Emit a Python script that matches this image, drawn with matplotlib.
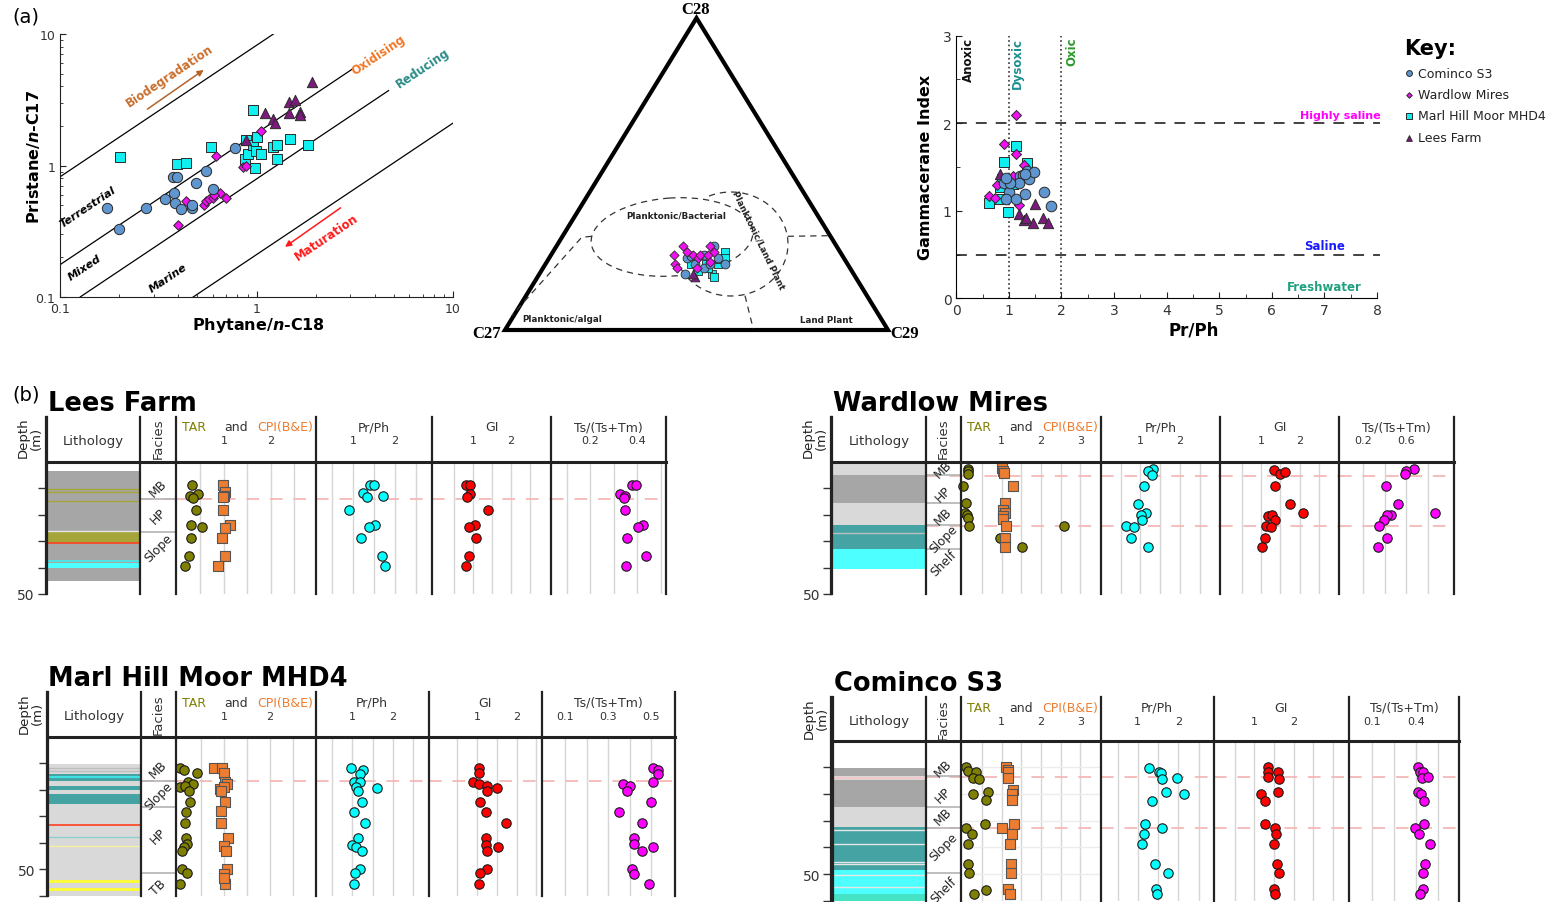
import numpy as np
import matplotlib
matplotlib.use("Agg")
import matplotlib.pyplot as plt
from matplotlib.patches import Polygon, Ellipse
from matplotlib.ticker import NullFormatter

plt.rcParams['font.family'] = ['DejaVu Sans']
plt.rcParams['mathtext.fontset'] = 'dejavusans'

W, H, DPI = 1553, 903, 100

# ---------------------------------------------------------------- data
# Pristane/n-C17 vs Phytane/n-C18
COM_PH = [0.173, 0.200, 0.273, 0.344, 0.379, 0.387, 0.378, 0.392, 0.412, 0.469, 0.471, 0.495, 0.551, 0.603, 0.78]
COM_PR = [0.474, 0.327, 0.476, 0.558, 0.617, 0.52, 0.815, 0.815, 0.469, 0.473, 0.497, 0.741, 0.916, 0.665, 1.36]
WAR_PH = [0.438, 0.40, 0.54, 0.556, 0.574, 0.603, 0.62, 0.65, 0.61, 0.70, 0.85, 0.88, 1.06]
WAR_PR = [0.533, 0.35, 0.503, 0.533, 0.555, 0.562, 1.19, 0.62, 0.60, 0.562, 0.97, 0.99, 1.84]
MAR_PH = [0.203, 0.396, 0.44, 0.586, 0.96, 0.88, 0.87, 0.90, 0.96, 0.99, 1.01, 1.06, 0.98, 1.21, 1.27, 1.27, 1.48, 1.83]
MAR_PR = [1.16, 1.03, 1.05, 1.39, 2.62, 1.55, 1.12, 1.23, 1.42, 1.30, 1.64, 1.23, 0.95, 1.39, 1.44, 1.12, 1.60, 1.44]
LEE_PH = [0.88, 1.11, 1.21, 1.24, 1.46, 1.57, 1.46, 1.66, 1.67, 1.91]
LEE_PR = [1.55, 2.50, 2.24, 2.11, 3.06, 3.13, 2.50, 2.54, 2.42, 4.29]

# Sterane C27 / C28 / C29 distribution (%)
COM_C27 = [44, 41, 40, 40, 38, 32, 33, 32, 36, 36]
COM_C28 = [18, 23, 24, 21, 20, 27, 23, 21, 24, 21]
COM_C29 = [38, 36, 37, 39, 42, 41, 44, 47, 40, 43]
WAR_C27 = [40, 44, 45, 45, 40, 39, 38, 37, 40, 33, 35, 33, 36]
WAR_C28 = [27, 24, 21, 20, 25, 24, 23, 24, 20, 27, 24, 25, 22]
WAR_C29 = [33, 32, 34, 35, 35, 37, 39, 39, 40, 40, 41, 42, 43]
MAR_C27 = [41, 40, 37, 37, 34, 30, 33, 37, 31, 37]
MAR_C28 = [21, 19, 21, 18, 21, 25, 23, 17, 23, 20]
MAR_C29 = [38, 41, 42, 45, 45, 45, 45, 46, 46, 43]
LEE_C27 = [42, 42]
LEE_C28 = [17, 18]
LEE_C29 = [41, 40]

# Gammacerane index vs Pr/Ph
COM_PRPH_X = [0.91, 1.01, 0.95, 1.13, 1.21, 1.27, 1.31, 1.35, 1.39, 1.48, 1.67, 1.81, 1.19, 1.03, 0.95, 1.31]
COM_GI_Y = [1.32, 1.21, 1.13, 1.13, 1.40, 1.41, 1.19, 1.45, 1.36, 1.44, 1.22, 1.06, 1.32, 1.32, 1.37, 1.42]
WAR_PRPH_X = [1.13, 0.91, 1.13, 1.29, 1.07, 0.77, 0.62, 0.74, 1.01, 1.19]
WAR_GI_Y = [2.09, 1.76, 1.65, 1.52, 1.40, 1.29, 1.17, 1.15, 1.29, 1.07]
MAR_PRPH_X = [1.13, 0.90, 1.35, 0.63, 0.99, 0.82, 0.83, 0.87, 1.07]
MAR_GI_Y = [1.74, 1.56, 1.54, 1.09, 0.99, 1.13, 1.27, 1.36, 1.31]
LEE_PRPH_X = [0.83, 1.19, 1.29, 1.33, 1.45, 1.50, 1.65, 1.74]
LEE_GI_Y = [1.42, 0.96, 0.89, 0.92, 0.86, 1.08, 0.92, 0.86]

# Depth profiles: Lees Farm
LF_TAR_D = [8.8, 13.1, 12.2, 13.7, 18.2, 23.8, 24.8, 29.0, 35.8, 39.3]
LF_TAR = [0.33, 0.28, 0.44, 0.35, 0.41, 0.30, 0.54, 0.30, 0.26, 0.17]
LF_CPI_D = [8.8, 11.6, 13.1, 13.5, 18.2, 23.8, 24.9, 29.0, 35.8, 39.3]
LF_CPI = [0.98, 1.02, 1.01, 0.99, 0.97, 1.12, 1.03, 0.96, 1.03, 0.88]
LF_PRPH_D = [8.8, 8.8, 11.9, 13.5, 12.9, 18.2, 23.8, 24.8, 29.0, 35.8, 39.3]
LF_PRPH = [1.40, 1.50, 1.24, 1.34, 1.71, 0.90, 1.53, 1.37, 1.19, 1.69, 1.76]
LF_GI_D = [8.8, 8.8, 12.2, 13.5, 18.2, 23.8, 24.8, 29.0, 35.8, 39.3]
LF_GI = [0.82, 0.91, 0.91, 0.85, 1.39, 1.05, 0.89, 1.08, 0.89, 0.82]
LF_TS_D = [8.8, 8.8, 12.2, 12.9, 13.9, 18.2, 23.8, 24.8, 29.0, 35.8, 39.3]
LF_TS = [0.377, 0.396, 0.326, 0.350, 0.344, 0.348, 0.424, 0.405, 0.359, 0.437, 0.354]

# Depth profiles: Wardlow Mires
WM_TAR_D = [2.8, 3.7, 4.8, 9.1, 15.6, 19.2, 20.2, 21.4, 24.2, 24.3, 29.0, 32.1]
WM_TAR = [0.13, 0.13, 0.15, 0.02, 0.09, 0.06, 0.12, 0.15, 0.17, 2.58, 0.96, 1.51]
WM_CPI_D = [2.5, 3.4, 4.4, 9.1, 15.6, 18.3, 19.5, 20.7, 21.7, 24.2, 29.0, 32.1]
WM_CPI = [1.01, 1.03, 1.06, 1.28, 1.07, 1.03, 1.09, 1.03, 1.03, 1.10, 1.09, 1.09]
WM_PRPH_D = [2.8, 3.7, 5.0, 9.1, 16.0, 19.2, 20.1, 22.1, 24.2, 24.5, 29.0, 32.1]
WM_PRPH = [1.32, 1.18, 1.29, 1.10, 0.93, 1.15, 1.02, 1.05, 0.63, 0.83, 0.77, 1.19]
WM_GI_D = [3.1, 4.7, 3.8, 9.1, 15.9, 19.2, 20.4, 20.2, 21.9, 24.2, 24.6, 29.0, 32.1]
WM_GI = [1.33, 1.49, 1.62, 1.36, 1.75, 2.09, 1.19, 1.28, 1.36, 1.13, 1.25, 1.11, 1.02]
WM_TS_D = [2.8, 3.4, 4.7, 9.1, 15.9, 19.2, 20.2, 20.2, 22.1, 24.2, 29.0, 32.1]
WM_TS = [0.67, 0.60, 0.59, 0.41, 0.52, 0.87, 0.46, 0.42, 0.39, 0.35, 0.42, 0.34]

# Depth profiles: Marl Hill Moor MHD4
MH_TAR_D = [11.9, 12.4, 13.7, 17.2, 17.8, 19.1, 18.7, 20.4, 24.8, 28.6, 32.6, 38.4, 40.5, 41.8, 43.3, 50.0, 51.6, 55.4]
MH_TAR = [0.05, 0.12, 0.41, 0.22, 0.33, 0.05, 0.14, 0.24, 0.26, 0.17, 0.14, 0.17, 0.19, 0.12, 0.08, 0.08, 0.19, 0.05]
MH_CPI_D = [11.9, 11.9, 13.7, 17.2, 17.8, 19.7, 18.8, 20.4, 24.8, 28.0, 32.6, 38.4, 41.2, 43.1, 50.0, 51.9, 55.4, 53.5]
MH_CPI = [0.79, 0.96, 1.00, 1.02, 1.07, 0.91, 1.00, 0.94, 1.02, 0.93, 0.93, 1.08, 1.00, 1.05, 1.07, 1.00, 1.02, 1.00]
MH_PRPH_D = [11.9, 12.4, 14.1, 17.2, 17.2, 18.8, 19.3, 20.6, 24.8, 28.6, 32.6, 38.4, 40.8, 41.8, 43.3, 50.0, 51.6, 55.4]
MH_PRPH = [0.97, 1.26, 1.19, 1.04, 1.19, 1.10, 1.60, 1.15, 1.24, 1.04, 1.31, 1.15, 0.99, 1.10, 1.24, 1.20, 1.08, 1.06]
MH_GI_D = [11.9, 13.7, 17.2, 17.8, 18.7, 19.3, 20.4, 24.8, 28.6, 32.6, 38.4, 40.8, 41.8, 43.3, 50.0, 51.6, 55.4]
MH_GI = [1.05, 1.05, 0.89, 1.05, 1.25, 1.50, 1.24, 1.08, 1.22, 1.72, 1.22, 1.22, 1.53, 1.24, 1.24, 1.08, 1.05]
MH_TS_D = [11.9, 12.4, 13.9, 17.8, 18.7, 20.4, 17.2, 24.8, 28.6, 32.6, 38.4, 40.5, 41.8, 43.3, 50.0, 51.9, 55.4]
MH_TS = [0.51, 0.53, 0.53, 0.37, 0.40, 0.39, 0.51, 0.50, 0.35, 0.46, 0.42, 0.42, 0.51, 0.46, 0.41, 0.42, 0.49]

# Depth profiles: Cominco S3
CS_TAR_D = [9.7, 11.3, 11.9, 13.8, 14.5, 20.1, 19.2, 22.4, 31.1, 32.9, 34.8, 38.7, 46.4, 49.6, 55.8, 57.5]
CS_TAR = [0.09, 0.15, 0.35, 0.26, 0.42, 0.26, 0.65, 0.61, 0.57, 0.09, 0.24, 0.15, 0.15, 0.17, 0.61, 0.29]
CS_CPI_D = [9.7, 10.9, 11.9, 13.8, 18.6, 20.1, 22.4, 31.1, 32.9, 34.8, 38.7, 46.4, 49.6, 55.6, 57.5]
CS_CPI = [1.11, 1.15, 1.15, 1.15, 1.28, 1.25, 1.25, 1.31, 1.01, 1.25, 1.20, 1.23, 1.23, 1.15, 1.20]
CS_PRPH_D = [10.1, 11.6, 12.2, 14.2, 13.8, 19.2, 20.1, 22.6, 31.1, 32.9, 34.8, 38.7, 46.4, 49.6, 55.6, 57.5]
CS_PRPH = [1.27, 1.52, 1.57, 1.59, 1.97, 1.70, 2.13, 1.34, 1.18, 1.61, 1.16, 1.11, 1.43, 1.75, 1.45, 1.48]
CS_GI_D = [9.7, 11.9, 11.6, 13.5, 14.2, 19.1, 20.1, 22.6, 31.1, 32.9, 34.8, 38.7, 46.4, 49.6, 55.6, 57.5]
CS_GI = [1.36, 1.36, 1.60, 1.36, 1.63, 1.60, 1.17, 1.28, 1.28, 1.52, 1.56, 1.49, 1.58, 1.63, 1.50, 1.52]
CS_TS_D = [9.7, 11.9, 11.6, 13.8, 13.5, 19.1, 20.1, 22.6, 31.1, 32.6, 34.8, 38.7, 46.4, 49.6, 55.6, 57.5]
CS_TS = [0.415, 0.423, 0.449, 0.437, 0.481, 0.415, 0.435, 0.452, 0.452, 0.391, 0.42, 0.496, 0.458, 0.443, 0.443, 0.428]

# Lithology intervals (top, base, unit) and thin beds (depth, kind)
LF_LITHO = [(3.4, 45.0, 'dark'), (26.5, 30.7, 'olive'), (38.4, 40.3, 'cyan')]
LF_BEDS = [(10.3, 'olive'), (11.6, 'olive'), (14.7, 'olive'), (26.1, 'pale'), (30.7, 'red'), (37.4, 'cyan')]
WM_LITHO = [(0.5, 4.9, 'light'), (4.9, 15.6, 'dark'), (15.6, 23.8, 'light'), (23.8, 33.0, 'teal'), (33.0, 40.6, 'cyan')]
WM_BEDS = [(26.9, 'grey')]
MH_LITHO = [(10.3, 60.0, 'light'), (14.1, 16.6, 'teal'), (18.5, 20.1, 'teal'), (21.6, 25.4, 'teal')]
MH_BEDS = [(11.9, 'grey'), (12.8, 'grey'), (15.3, 'cyan'), (33.3, 'red'), (38.0, 'blue'),
           (41.4, 'paleyellow'), (54.6, 'yellow'), (57.5, 'yellow')]
CS_LITHO = [(10.1, 13.2, 'dark'), (13.2, 14.7, 'light'), (14.7, 24.9, 'dark'), (24.9, 32.3, 'light'),
            (32.3, 48.6, 'teal'), (48.6, 57.4, 'cyan'), (57.4, 60.5, 'turq')]
CS_BEDS = [(13.9, 'pink'), (33.6, 'pale'), (38.6, 'pale'), (45.6, 'pale'), (46.4, 'pale'), (50.5, 'pale'), (54.7, 'pale')]

# Facies names with mid-depths, facies boundaries and key horizons
LF_FACIES = [('MB', 9.7), ('HP', 20.4), ('Slope', 32.4)]
LF_BOUNDS = [14.1, 26.5]
LF_HORIZONS = [14.1]
WM_FACIES = [('MB', 2.8), ('HP', 12.2), ('MB', 20.4), ('Slope', 29.2), ('Shelf', 38.0)]
WM_BOUNDS = [4.9, 15.6, 23.8, 33.0]
WM_HORIZONS = [5.5, 24.3]
MH_FACIES = [('MB', 12.2), ('Slope', 22.3), ('HP', 37.4), ('TB', 56.8)]
MH_BOUNDS = [16.6, 26.4, 51.4]
MH_HORIZONS = [16.6]
CS_FACIES = [('MB', 10.1), ('HP', 20.1), ('MB', 28.3), ('Slope', 39.5), ('Shelf', 55.8)]
CS_BOUNDS = [13.2, 24.9, 32.6, 49.5]
CS_HORIZONS = [13.5, 32.9]

# ---------------------------------------------------------------- styles
C_COM, C_WAR, C_MAR, C_LEE = '#5f96cf', '#f010f0', '#10f0f0', '#7d1a7d'
C_TAR, C_CPI, C_PRPH, C_GI, C_TS = '#7f7f00', '#ed7d31', '#00ffff', '#ff0000', '#ff00ff'
TXT = '#333333'

LITHO_COL = {'dark': '#a6a6a6', 'light': '#d9d9d9', 'olive': '#a5a53a', 'cyan': '#4dffff',
             'teal': '#45a3a3', 'turq': '#45e3c3'}
BED_STYLE = {'olive': ('#a5a53a', 1.0), 'pale': ('#e6e6e6', 1.0), 'red': ('#ff4020', 1.2),
             'cyan': ('#40f0f0', 1.2), 'grey': ('#bdbdbd', 1.0), 'blue': ('#8ecfcf', 1.0),
             'paleyellow': ('#f4f0a0', 1.0), 'yellow': ('#ffff30', 2.0), 'pink': ('#f2c8c8', 1.5)}
PINK = dict(color='#f4b9b9', lw=1.3, ls=(0, (7, 6)), zorder=1)

fig = plt.figure(figsize=(W / DPI, H / DPI), dpi=DPI)


def frac_box(x0, y0, x1, y1):
    return [x0 / W, 1 - y1 / H, (x1 - x0) / W, (y1 - y0) / H]


over = fig.add_axes([0, 0, 1, 1], zorder=30)
over.set_xlim(0, W)
over.set_ylim(H, 0)
over.axis('off')

over.text(12, 17, '(a)', fontsize=14, ha='left', va='center')
over.text(12, 395, '(b)', fontsize=14, ha='left', va='center')

# ---------------------------------------------------------------- Pr/n-C17 vs Ph/n-C18
ax1 = fig.add_axes(frac_box(60, 35, 453, 298))
ax1.set_xscale('log')
ax1.set_yscale('log')
ax1.set_xlim(0.1, 10)
ax1.set_ylim(0.1, 10)
for sp in ('top', 'right'):
    ax1.spines[sp].set_visible(False)
for sp in ('left', 'bottom'):
    ax1.spines[sp].set_color('#222222')
ax1.set_xticks([0.1, 1, 10])
ax1.set_xticklabels(['0.1', '1', '10'])
ax1.set_yticks([0.1, 1, 10])
ax1.set_yticklabels(['0.1', '1', '10'])
ax1.xaxis.set_minor_formatter(NullFormatter())
ax1.yaxis.set_minor_formatter(NullFormatter())
ax1.tick_params(which='both', direction='in', colors='#222222', labelcolor=TXT, labelsize=9)
ax1.tick_params(which='major', length=4)
ax1.tick_params(which='minor', length=2.5)

# organic-matter source / redox boundaries (Pr/n-C17 = k * Ph/n-C18)
for k, xa, xb in [(8.2, 0.1, 1.22), (1.76, 0.1, 3.1), (0.79, 0.127, 4.7), (0.21, 0.476, 10)]:
    xs = np.array([xa, xb])
    ax1.plot(xs, k * xs, color='black', lw=0.9, zorder=1)

mk = dict(edgecolors='#2a2a2a', linewidths=0.7, zorder=3)
ax1.scatter(MAR_PH, MAR_PR, marker='s', s=46, c=C_MAR, **mk)
ax1.scatter(WAR_PH, WAR_PR, marker='D', s=24, c=C_WAR, **mk)
ax1.scatter(LEE_PH, LEE_PR, marker='^', s=55, c=C_LEE, **mk)
ax1.scatter(COM_PH, COM_PR, marker='o', s=55, c=C_COM, **mk)

ROT = 33.8
ax1.text(0.363, 4.82, 'Biodegradation', color='#c8702f', fontsize=8.5, rotation=ROT, ha='center', va='center',
         fontweight='semibold')
ax1.annotate('', xy=(0.553, 5.48), xytext=(0.271, 2.61),
             arrowprops=dict(arrowstyle='-|>', color='#b4642a', lw=1.1, mutation_scale=9))
ax1.text(4.17, 7.04, 'Oxidising', color='#f07828', fontsize=8.5, rotation=ROT, ha='center', va='center',
         fontweight='semibold')
ax1.text(7.01, 5.58, 'Reducing', color='#2a8c88', fontsize=8.5, rotation=ROT, ha='center', va='center',
         fontweight='semibold')
ax1.text(0.139, 0.49, 'Terrestrial', fontsize=8, rotation=ROT, ha='center', va='center',
         fontweight='bold', fontstyle='italic')
ax1.text(0.134, 0.168, 'Mixed', fontsize=8, rotation=ROT, ha='center', va='center',
         fontweight='bold', fontstyle='italic')
ax1.text(0.353, 0.141, 'Marine', fontsize=8, rotation=ROT, ha='center', va='center',
         fontweight='bold', fontstyle='italic')
ax1.text(2.28, 0.29, 'Maturation', color='#ff1a1a', fontsize=8.5, rotation=ROT, ha='center', va='center',
         fontweight='semibold')
ax1.annotate('', xy=(1.36, 0.234), xytext=(2.75, 0.49),
             arrowprops=dict(arrowstyle='-|>', color='#ff1a1a', lw=1.1, mutation_scale=9))
over.text(259, 326, r'Phytane/$\mathbfit{n}$-C18', fontsize=11.5, fontweight='bold', ha='center', va='center')
over.text(33, 157, r'Pristane/$\mathbfit{n}$-C17', fontsize=11.5, fontweight='bold', ha='center', va='center',
          rotation=90)

# ---------------------------------------------------------------- sterane ternary
axt = fig.add_axes(frac_box(480, 0, 920, 345))
axt.set_xlim(480, 920)
axt.set_ylim(345, 0)
axt.axis('off')
TX0, TW, TY0, TH = 505.0, 383.0, 331.0, 312.0


def tern_xy(c27, c28, c29):
    c27, c28, c29 = (np.asarray(v, float) for v in (c27, c28, c29))
    s = c27 + c28 + c29
    return TX0 + TW * (c29 + c28 / 2) / s, TY0 - TH * c28 / s


corners = np.array([tern_xy(100, 0, 0), tern_xy(0, 0, 100), tern_xy(0, 100, 0)])
axt.add_patch(Polygon(corners, closed=True, fill=False, lw=3.0, ec='black', zorder=2))
dash = dict(color='#333333', lw=0.9, ls=(0, (5, 4)))
axt.add_patch(Ellipse((672, 238), 162, 78, angle=-4, fill=False, ec='#333333', lw=0.9, ls=(0, (5, 4))))
t = np.radians(np.linspace(-152, 115, 200))
axt.plot(731 + 57 * np.cos(t), 245 - 52 * np.sin(t), **dash)
axt.plot([591.7, 581.7, 511.7], [237.3, 238.3, 316.7], **dash)
axt.plot([745, 753.3], [296.7, 330], **dash)
axt.plot([787.7, 828.3], [237.3, 236.7], **dash)
tl = dict(fontsize=6.3, fontweight='bold', ha='center', va='center', color='#222222')
axt.text(676.7, 216, 'Planktonic/Bacterial', **tl)
axt.text(758, 240, 'Planktonic/Land Plant', rotation=-64, **tl)
axt.text(561.7, 320, 'Planktonic/algal', **tl)
axt.text(826.7, 321, 'Land Plant', **tl)
vx = dict(fontsize=12, fontweight='bold', family='Liberation Serif', ha='center', va='center')
axt.text(696, 10, 'C28', **vx)
axt.text(487, 334, 'C27', **vx)
axt.text(905, 334, 'C29', **vx)

tk = dict(edgecolors='#2a2a2a', linewidths=0.6, zorder=3)
axt.scatter(*tern_xy(MAR_C27, MAR_C28, MAR_C29), marker='s', s=34, c=C_MAR, **tk)
axt.scatter(*tern_xy(COM_C27, COM_C28, COM_C29), marker='o', s=40, c=C_COM, **tk)
axt.scatter(*tern_xy(LEE_C27, LEE_C28, LEE_C29), marker='^', s=40, c=C_LEE, **tk)
axt.scatter(*tern_xy(WAR_C27, WAR_C28, WAR_C29), marker='D', s=22, c=C_WAR, **tk)

# ---------------------------------------------------------------- GI vs Pr/Ph
ax2 = fig.add_axes(frac_box(956.3, 36.7, 1377, 299.3))
ax2.set_xlim(0, 8)
ax2.set_ylim(0, 3)
for sp in ('top', 'right'):
    ax2.spines[sp].set_visible(False)
ax2.set_xticks(range(0, 9))
ax2.set_xticks(np.arange(0.5, 8, 1.0), minor=True)
ax2.set_yticks([0, 1, 2, 3])
ax2.set_yticks([0.5, 1.5, 2.5], minor=True)
ax2.tick_params(which='both', direction='in', colors='#222222', labelcolor=TXT, labelsize=10)
ax2.tick_params(which='major', length=4)
ax2.tick_params(which='minor', length=3)
hd = dict(color='#333333', lw=1.3, ls=(0, (6, 5)), clip_on=False, zorder=1)
ax2.plot([0, 8.05], [2, 2], **hd)
ax2.plot([0, 8.05], [0.5, 0.5], **hd)
ax2.plot([1, 1], [0, 3], color='#333333', lw=1.2, ls=':', zorder=1)
ax2.plot([2, 2], [0, 3], color='#333333', lw=1.2, ls=':', zorder=1)
vt = dict(fontsize=8.5, fontweight='bold', rotation=90, ha='center', va='top')
ax2.text(0.24, 2.99, 'Anoxic', color='#111111', **vt)
ax2.text(1.17, 2.99, 'Dysoxic', color='#1f8f8f', **vt)
ax2.text(2.19, 2.99, 'Oxic', color='#2a9a2a', **vt)
ax2.text(8.06, 2.09, 'Highly saline', color='#ff00ff', fontsize=8, fontweight='bold', ha='right', va='center')
ax2.text(7.0, 0.60, 'Saline', color='#1a1aff', fontsize=8.5, fontweight='bold', ha='center', va='center')
ax2.text(7.0, 0.13, 'Freshwater', color='#20a080', fontsize=8.5, fontweight='bold', ha='center', va='center')

h_mar = ax2.scatter(MAR_PRPH_X, MAR_GI_Y, marker='s', s=50, c=C_MAR, **mk)
h_war = ax2.scatter(WAR_PRPH_X, WAR_GI_Y, marker='D', s=26, c=C_WAR, **mk)
h_lee = ax2.scatter(LEE_PRPH_X, LEE_GI_Y, marker='^', s=55, c=C_LEE, **mk)
h_com = ax2.scatter(COM_PRPH_X, COM_GI_Y, marker='o', s=58, c=C_COM, **mk)
over.text(1194, 331, 'Pr/Ph', fontsize=12, fontweight='bold', ha='center', va='center')
over.text(925, 167, 'Gammacerane Index', fontsize=11.5, fontweight='bold', ha='center', va='center', rotation=90)

leg = fig.legend([h_com, h_war, h_mar, h_lee],
                 ['Cominco S3', 'Wardlow Mires', 'Marl Hill Moor MHD4', 'Lees Farm'],
                 loc='upper left', bbox_to_anchor=(1404 / W, 1 - 39 / H), frameon=False,
                 title='Key:', title_fontproperties={'weight': 'bold', 'size': 15}, alignment='left',
                 fontsize=9, handletextpad=0.3, labelspacing=0.68, markerscale=0.55,
                 borderpad=0.0, handlelength=0.8, borderaxespad=0.0)
for txt in leg.get_texts():
    txt.set_color('#222222')

# ---------------------------------------------------------------- well logs
MARK = {'tar': dict(marker='o', c=C_TAR, ec='#1a1a1a'),
        'cpi': dict(marker='s', c=C_CPI, ec='#555555'),
        'prph': dict(marker='o', c=C_PRPH, ec='#1a1a1a'),
        'gi': dict(marker='o', c=C_GI, ec='#1a1a1a'),
        'ts': dict(marker='o', c=C_TS, ec='#1a1a1a')}


def draw_well(title, lay, litho, beds, facies, bounds, horizons, columns):
    cols, top, hl, bot, dmax = lay['cols'], lay['top'], lay['hline'], lay['bottom'], lay['dmax']
    ppm = (bot - hl) / dmax
    over.text(cols[0] + 1, top - 14, title, fontsize=18.5, fontweight='bold', ha='left', va='center')

    # depth scale
    dax = fig.add_axes(frac_box(cols[0] - 1, top, cols[0], bot), zorder=25)
    dax.patch.set_visible(False)
    dax.set_ylim(dmax, -(hl - top) / ppm)
    for sp in ('top', 'right', 'bottom'):
        dax.spines[sp].set_visible(False)
    dax.spines['left'].set_linewidth(1.6)
    dax.spines['left'].set_color('#222222')
    dax.set_xticks([])
    ticks = np.arange(10, dmax + 1, 10)
    dax.set_yticks(ticks)
    dax.set_yticklabels(['50' if v == 50 else '' for v in ticks])
    dax.tick_params(axis='y', direction='out', length=6, width=1, colors='#333333', labelsize=10, pad=2)
    over.text(cols[0] - 17, top + 20, 'Depth\n(m)', rotation=90, ha='center', va='center', fontsize=9.5,
              linespacing=1.0, color='#222222')

    # lithology column
    lax = fig.add_axes(frac_box(cols[0], hl, cols[1], bot), zorder=5)
    lax.set_xlim(0, 1)
    lax.set_ylim(dmax, 0)
    lax.axis('off')
    for d0, d1, unit in litho:
        lax.axhspan(d0, d1, color=LITHO_COL[unit], lw=0)
    for d, kind in beds:
        c, w = BED_STYLE[kind]
        lax.axhline(d, color=c, lw=w)

    # facies column
    fax = fig.add_axes(frac_box(cols[1], hl, cols[2], bot), zorder=5)
    fax.set_xlim(0, 1)
    fax.set_ylim(dmax, 0)
    fax.axis('off')
    for name, d in facies:
        fax.text(0.5, d, name, rotation=45, ha='center', va='center', fontsize=8.8, color='#222222')
    for d in bounds:
        fax.axhline(d, color='#b3b3b3', lw=1.2)
    for d in horizons:
        fax.axhline(d, **PINK)

    # header
    hy1, hy2 = top + 10, top + 23.5
    over.text((cols[0] + cols[1]) / 2, hy2, 'Lithology', ha='center', va='center', fontsize=9.5, color=TXT)
    over.text((cols[1] + cols[2]) / 2, top + 21, 'Facies', rotation=90, ha='center', va='center',
              fontsize=9.5, color=TXT)
    over.text(cols[2] + 18, hy1, 'TAR', ha='center', va='center', fontsize=9, color='#7f7f00')
    over.text(cols[2] + 60, hy1, 'and', ha='center', va='center', fontsize=9, color=TXT)
    over.text(cols[2] + 109, hy1, 'CPI(B&E)', ha='center', va='center', fontsize=9, color='#ed7d31')
    for i, name in zip((3, 4, 5), ('Pr/Ph', 'GI', 'Ts/(Ts+Tm)')):
        over.text((cols[i] + cols[i + 1]) / 2, hy1, name, ha='center', va='center', fontsize=9, color=TXT)

    # data columns
    yfrac = 1 + (hl - hy2) / (bot - hl)
    for i, series in enumerate(columns):
        ax = fig.add_axes(frac_box(cols[i + 2], hl, cols[i + 3], bot), zorder=6)
        ax.set_xlim(*lay['xlims'][i])
        ax.set_ylim(dmax, 0)
        ax.axis('off')
        ax.vlines(lay['grids'][i], 0, 1, transform=ax.get_xaxis_transform(), color='#d6d6d6', lw=1, zorder=0)
        if i == 0 and lay.get('rules'):
            for d in np.arange(10, dmax + 1, 10):
                ax.axhline(d, color='#ececec', lw=1, zorder=0)
        for d in horizons:
            ax.axhline(d, **PINK)
        for v in lay['ticks'][i]:
            ax.text(v, yfrac, f'{v:g}', transform=ax.get_xaxis_transform(), ha='center', va='center',
                    fontsize=8, color=TXT)
        for depth, vals, kind in series:
            st = MARK[kind]
            ax.scatter(vals, depth, marker=st['marker'], s=46, c=st['c'], edgecolors=st['ec'],
                       linewidths=0.8, zorder=3, clip_on=False)

    # frame
    for x in cols:
        over.plot([x, x], [top, bot], color='#222222', lw=1.6)
    over.plot([cols[0], cols[-1]], [hl, hl], color='#222222', lw=2.2)


LAY_LF = dict(cols=[47, 140.4, 176, 316, 431.7, 551.3, 666], top=418, hline=462.7, bottom=595, dmax=50,
              xlims=[(-0.02, 2.96), (0.115, 2.88), (-0.09, 3.07), (0.035, 0.523)],
              grids=[[0.5, 1, 1.5, 2, 2.5], [0.5, 1, 1.5, 2, 2.5], [0.5, 1, 1.5, 2, 2.5], [0.1, 0.2, 0.3, 0.4, 0.5]],
              ticks=[[1, 2], [1, 2], [1, 2], [0.2, 0.4]])
LAY_WM = dict(cols=[832.2, 925.7, 960.9, 1100.9, 1220.4, 1339.1, 1453.9], top=418, hline=462.7, bottom=595,
              dmax=50,
              xlims=[(-0.04, 3.52), (0.0, 3.02), (-0.05, 3.02), (-0.02, 1.04)],
              grids=[[0.5, 1, 1.5, 2, 2.5, 3], [0.5, 1, 1.5, 2, 2.5], [0.5, 1, 1.5, 2, 2.5], [0.2, 0.4, 0.6, 0.8]],
              ticks=[[1, 2, 3], [1, 2], [1, 2], [0.2, 0.6]])
LAY_MH = dict(cols=[47.5, 140.7, 175.8, 315.6, 428.6, 541.5, 674.7], top=693.3, hline=737.7, bottom=896.7,
              dmax=60,
              xlims=[(-0.05, 2.99), (0.11, 2.87), (-0.23, 2.63), (-0.01, 0.61)],
              grids=[[0.5, 1, 1.5, 2, 2.5], [0.5, 1, 1.5, 2, 2.5], [0.5, 1, 1.5, 2, 2.5],
                     [0.1, 0.2, 0.3, 0.4, 0.5]],
              ticks=[[1, 2], [1, 2], [1, 2], [0.1, 0.3, 0.5]])
LAY_CS = dict(cols=[832.5, 925.5, 960.9, 1100.9, 1213.5, 1349.3, 1459.3], top=698.3, hline=741.7, bottom=901.7,
              dmax=60, rules=True,
              xlims=[(-0.04, 3.52), (0.09, 2.87), (-0.04, 3.42), (-0.05, 0.69)],
              grids=[[0.5, 1, 1.5, 2, 2.5, 3], [0.5, 1, 1.5, 2, 2.5], [0.5, 1, 1.5, 2, 2.5, 3],
                     [0.1, 0.25, 0.4, 0.55]],
              ticks=[[1, 2, 3], [1, 2], [1, 2], [0.1, 0.4]])

draw_well('Lees Farm', LAY_LF, LF_LITHO, LF_BEDS, LF_FACIES, LF_BOUNDS, LF_HORIZONS,
          [[(LF_TAR_D, LF_TAR, 'tar'), (LF_CPI_D, LF_CPI, 'cpi')], [(LF_PRPH_D, LF_PRPH, 'prph')],
           [(LF_GI_D, LF_GI, 'gi')], [(LF_TS_D, LF_TS, 'ts')]])
draw_well('Wardlow Mires', LAY_WM, WM_LITHO, WM_BEDS, WM_FACIES, WM_BOUNDS, WM_HORIZONS,
          [[(WM_TAR_D, WM_TAR, 'tar'), (WM_CPI_D, WM_CPI, 'cpi')], [(WM_PRPH_D, WM_PRPH, 'prph')],
           [(WM_GI_D, WM_GI, 'gi')], [(WM_TS_D, WM_TS, 'ts')]])
draw_well('Marl Hill Moor MHD4', LAY_MH, MH_LITHO, MH_BEDS, MH_FACIES, MH_BOUNDS, MH_HORIZONS,
          [[(MH_TAR_D, MH_TAR, 'tar'), (MH_CPI_D, MH_CPI, 'cpi')], [(MH_PRPH_D, MH_PRPH, 'prph')],
           [(MH_GI_D, MH_GI, 'gi')], [(MH_TS_D, MH_TS, 'ts')]])
draw_well('Cominco S3', LAY_CS, CS_LITHO, CS_BEDS, CS_FACIES, CS_BOUNDS, CS_HORIZONS,
          [[(CS_TAR_D, CS_TAR, 'tar'), (CS_CPI_D, CS_CPI, 'cpi')], [(CS_PRPH_D, CS_PRPH, 'prph')],
           [(CS_GI_D, CS_GI, 'gi')], [(CS_TS_D, CS_TS, 'ts')]])

fig.savefig('out.png', dpi=DPI)
